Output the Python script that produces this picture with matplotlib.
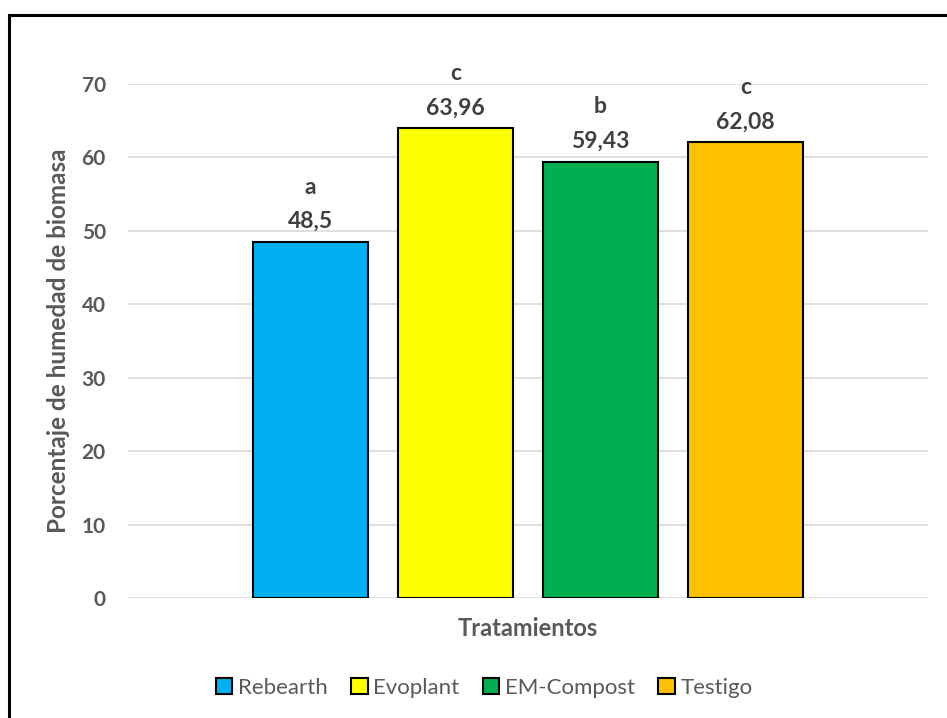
import matplotlib.pyplot as plt
from matplotlib.patches import Rectangle

tratamientos = ['Rebearth', 'Evoplant', 'EM-Compost', 'Testigo']
humedad = [48.5, 63.96, 59.43, 62.08]
letras = ['a', 'c', 'b', 'c']
colores = ['#00B0F0', '#FFFF00', '#00B050', '#FFC000']
yticks = [0, 10, 20, 30, 40, 50, 60, 70]

plt.rcParams['font.family'] = ['Lato', 'DejaVu Sans']
gris = '#595959'

fig = plt.figure(figsize=(9.47, 7.18), dpi=100)
ax = fig.add_axes([128 / 947, 1 - 598 / 718, 800 / 947, 514 / 718])

# outer chart border (cut off at right and bottom like the original)
fig.patches.append(Rectangle((9 / 947, -0.05), 1.2, 1 - 15 / 718 + 0.05,
                             transform=fig.transFigure, fill=False,
                             edgecolor='black', linewidth=2.2, zorder=0))

x = range(len(tratamientos))
for i in x:
    ax.bar(i, humedad[i], width=115 / 145, color=colores[i],
           edgecolor='black', linewidth=1.5, label=tratamientos[i], zorder=3)
    etiqueta = str(humedad[i]).replace('.', ',')
    ax.annotate(letras[i] + '\n' + etiqueta, (i, humedad[i]),
                xytext=(0, 7), textcoords='offset points',
                ha='center', va='bottom', fontsize=16.5, fontweight='bold',
                color='#404040', linespacing=1.8, annotation_clip=False)

ax.set_xlim(-1.259, 4.259)
ax.set_ylim(0, 70)
ax.set_yticks(yticks)
ax.set_xticks([])
ax.yaxis.grid(True, color='#D9D9D9', linewidth=1.2, zorder=0)
for s in ax.spines.values():
    s.set_visible(False)
ax.tick_params(axis='y', length=0, pad=16, labelsize=15, labelcolor=gris)
for t in ax.get_yticklabels():
    t.set_fontweight('bold')

ax.set_ylabel('Porcentaje de humedad de biomasa', fontsize=17.5,
              fontweight='bold', color=gris, labelpad=8)
ax.set_xlabel('Tratamientos', fontsize=17, fontweight='bold', color=gris,
              labelpad=14)

leg = fig.legend(loc='center', bbox_to_anchor=(484 / 947, 1 - 688 / 718),
                 ncol=4, frameon=False, fontsize=16, handlelength=0.75,
                 handleheight=0.75, handletextpad=0.25, columnspacing=1.05)
for t in leg.get_texts():
    t.set_color(gris)

fig.savefig('out.png', dpi=100)
